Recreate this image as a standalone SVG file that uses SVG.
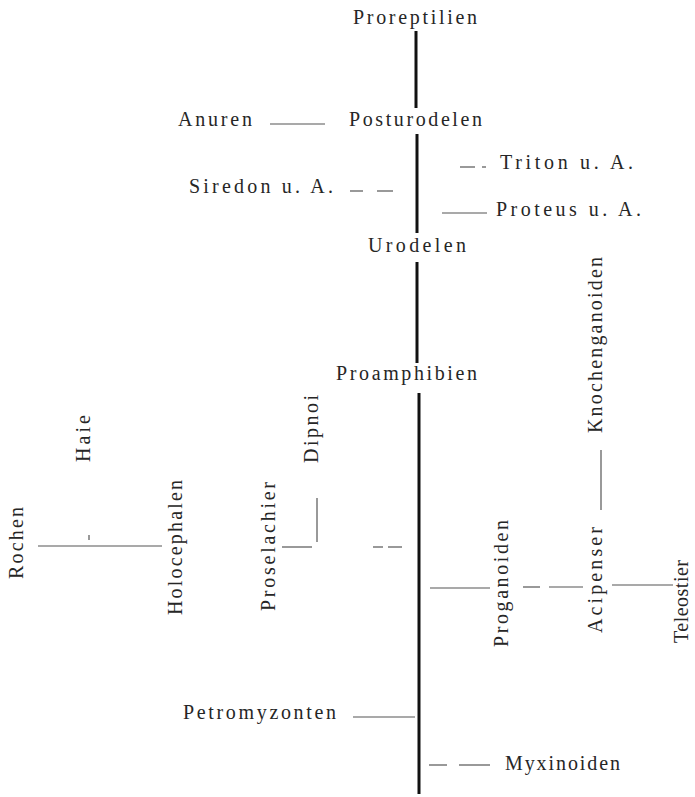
<svg xmlns="http://www.w3.org/2000/svg" width="695" height="797" viewBox="0 0 695 797">
<style>
.t{font-family:"Liberation Serif","Times New Roman",serif;font-size:20px;fill:#262626;}
.trunk{stroke:#111;stroke-width:3;fill:none;}
.c{stroke:#555;stroke-width:1.2;fill:none;}
</style>
<rect width="695" height="797" fill="#ffffff"/>
<g id="connectors">
<line class="trunk" x1="416" y1="31" x2="416" y2="108"/>
<line class="trunk" x1="417" y1="134" x2="417" y2="233"/>
<line class="trunk" x1="417" y1="262" x2="417" y2="363"/>
<line class="trunk" x1="419" y1="393" x2="419" y2="794"/>
<line class="c" x1="270" y1="124" x2="325" y2="124"/>
<line class="c" x1="350" y1="191" x2="363" y2="191"/>
<line class="c" x1="377" y1="191" x2="393" y2="191"/>
<line class="c" x1="460" y1="167" x2="475" y2="167"/>
<line class="c" x1="482" y1="167" x2="486" y2="167"/>
<line class="c" x1="442" y1="213" x2="487" y2="213"/>
<line class="c" x1="38" y1="546" x2="162" y2="546"/>
<line class="c" x1="89" y1="535" x2="89" y2="540"/>
<line class="c" x1="282" y1="547" x2="312" y2="547"/>
<line class="c" x1="317" y1="498" x2="317" y2="542"/>
<line class="c" x1="373" y1="547" x2="383" y2="547"/>
<line class="c" x1="388" y1="547" x2="402" y2="547"/>
<line class="c" x1="430" y1="588" x2="490" y2="588"/>
<line class="c" x1="523" y1="587" x2="540" y2="587"/>
<line class="c" x1="549" y1="587" x2="583" y2="587"/>
<line class="c" x1="612" y1="585" x2="673" y2="585"/>
<line class="c" x1="601" y1="450" x2="601" y2="510"/>
<line class="c" x1="353" y1="717" x2="415" y2="717"/>
<line class="c" x1="429" y1="765" x2="447" y2="765"/>
<line class="c" x1="459" y1="765" x2="490" y2="765"/>
</g>
<g id="proreptilien"><text class="t" x="353" y="24" textLength="124" lengthAdjust="spacing">Proreptilien</text></g>
<g id="anuren"><text class="t" x="178" y="126" textLength="74" lengthAdjust="spacing">Anuren</text></g>
<g id="posturodelen"><text class="t" x="349" y="126" textLength="133" lengthAdjust="spacing">Posturodelen</text></g>
<g id="triton"><text class="t" x="500" y="169" textLength="133" lengthAdjust="spacing">Triton u. A.</text></g>
<g id="siredon"><text class="t" x="189" y="193" textLength="144" lengthAdjust="spacing">Siredon u. A.</text></g>
<g id="proteus"><text class="t" x="496" y="216" textLength="145" lengthAdjust="spacing">Proteus u. A.</text></g>
<g id="urodelen"><text class="t" x="368" y="252" textLength="98" lengthAdjust="spacing">Urodelen</text></g>
<g id="proamphibien"><text class="t" x="336" y="380" textLength="141" lengthAdjust="spacing">Proamphibien</text></g>
<g id="haie"><text class="t" transform="translate(90,462) rotate(-90)" textLength="47" lengthAdjust="spacing">Haie</text></g>
<g id="rochen"><text class="t" transform="translate(23,579) rotate(-90)" textLength="72" lengthAdjust="spacing">Rochen</text></g>
<g id="holocephalen"><text class="t" transform="translate(182,615) rotate(-90)" textLength="135" lengthAdjust="spacing">Holocephalen</text></g>
<g id="proselachier"><text class="t" transform="translate(275,611) rotate(-90)" textLength="129" lengthAdjust="spacing">Proselachier</text></g>
<g id="dipnoi"><text class="t" transform="translate(318,463) rotate(-90)" textLength="68" lengthAdjust="spacing">Dipnoi</text></g>
<g id="proganoiden"><text class="t" transform="translate(508,647) rotate(-90)" textLength="127" lengthAdjust="spacing">Proganoiden</text></g>
<g id="acipenser"><text class="t" transform="translate(602,633) rotate(-90)" textLength="106" lengthAdjust="spacing">Acipenser</text></g>
<g id="knochenganoiden"><text class="t" transform="translate(602,433) rotate(-90)" textLength="176" lengthAdjust="spacing">Knochenganoiden</text></g>
<g id="teleostier"><text class="t" transform="translate(688,643) rotate(-90)" textLength="83" lengthAdjust="spacing">Teleostier</text></g>
<g id="petromyzonten"><text class="t" x="183" y="719" textLength="153" lengthAdjust="spacing">Petromyzonten</text></g>
<g id="myxinoiden"><text class="t" x="505" y="770" textLength="115" lengthAdjust="spacing">Myxinoiden</text></g>
</svg>
